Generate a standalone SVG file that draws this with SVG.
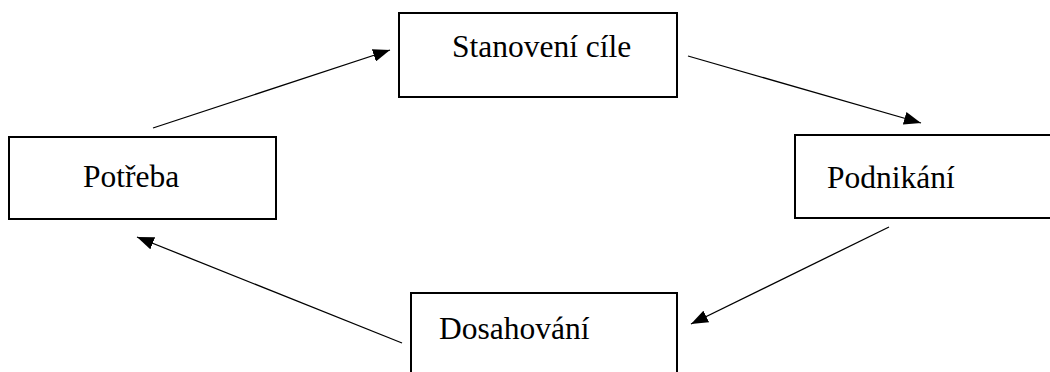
<svg xmlns="http://www.w3.org/2000/svg" width="1050" height="372" viewBox="0 0 1050 372">
  <style>
    .box { fill: #ffffff; stroke: #000000; stroke-width: 2; }
    .label { font-family: "Liberation Serif", "Times New Roman", serif; font-size: 31.5px; fill: #000000; }
    .conn { stroke: #000000; stroke-width: 1.3; fill: none; marker-end: url(#arrow); }
  </style>
  <defs>
    <marker id="arrow" viewBox="0 0 17 13" refX="17" refY="6.5" markerWidth="17" markerHeight="13" markerUnits="userSpaceOnUse" orient="auto">
      <path d="M0,0 L17,6.5 L0,13 Z" fill="#000000"/>
    </marker>
  </defs>
  <rect width="1050" height="372" fill="#ffffff"/>

  <g id="node-stanoveni">
    <rect class="box" x="399" y="13" width="278" height="84"/>
    <text class="label" x="452" y="57">Stanovení cíle</text>
  </g>
  <g id="node-potreba">
    <rect class="box" x="9" y="137" width="267" height="82"/>
    <text class="label" x="83" y="187">Potřeba</text>
  </g>
  <g id="node-podnikani">
    <rect class="box" x="795" y="135" width="256" height="83"/>
    <text class="label" x="827" y="188">Podnikání</text>
  </g>
  <g id="node-dosahovani">
    <rect class="box" x="411" y="293" width="266" height="90"/>
    <text class="label" x="439" y="339">Dosahování</text>
  </g>

  <g id="connectors">
    <line class="conn" x1="153" y1="128" x2="390" y2="50"/>
    <line class="conn" x1="688" y1="56" x2="921" y2="123"/>
    <line class="conn" x1="889" y1="227" x2="691" y2="324"/>
    <line class="conn" x1="402" y1="343" x2="137" y2="237"/>
  </g>
</svg>
